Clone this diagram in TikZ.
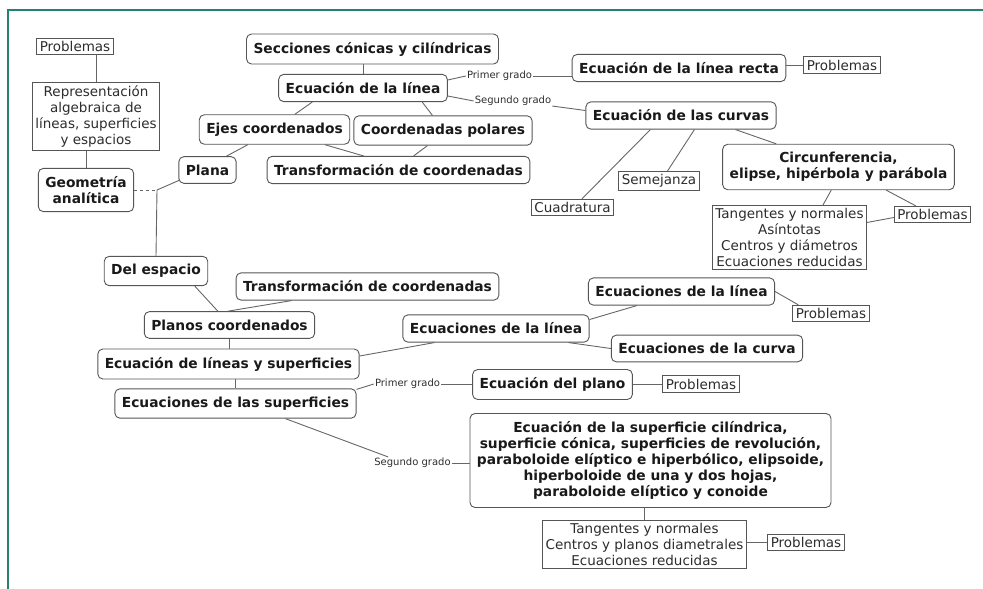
\documentclass[tikz,border=0pt]{standalone}
\usepackage{fontspec}
\setmainfont{DejaVu Sans}
\usetikzlibrary{backgrounds}

\definecolor{frameteal}{RGB}{38,128,116}
\definecolor{boxgray}{RGB}{85,85,85}
\definecolor{txtgray}{RGB}{45,45,45}

\begin{document}
\begin{tikzpicture}[x=1pt, y=-1pt,
    topic/.style={draw=boxgray, line width=0.9pt, rounded corners=5pt, fill=white,
        inner xsep=7pt, inner ysep=8pt, align=center,
        font=\fontsize{13.8}{16}\selectfont\bfseries, text=black!90},
    plain/.style={draw=boxgray, line width=0.8pt, fill=white,
        inner xsep=3pt, inner ysep=3pt, align=center,
        font=\fontsize{13.5}{16}\selectfont, text=txtgray},
    lbl/.style={inner sep=1pt, font=\fontsize{10}{12}\selectfont, text=txtgray},
    link/.style={draw=boxgray!90, line width=0.9pt}]

    \useasboundingbox (0,0) rectangle (983,589);
    \draw[frameteal, line width=2.4pt] (983,10) -- (8,10) -- (8,589);

    % left column
    \node[plain] (prbA) at (75,46.5) {Problemas};
    \node[plain] (rep) at (96,116.5) {Representación\\algebraica de\\líneas, superficies\\y espacios};
    \node[topic] (geo) at (86,190) {Geometría\\analítica};
    \node[topic] (plana) at (207.5,170) {Plana};
    \coordinate (jn) at (157,190);
    \node[topic] (del) at (156,271) {Del espacio};

    % plane geometry
    \node[topic] (secc) at (372.5,49) {Secciones cónicas y cilíndricas};
    \node[topic] (ecl) at (363,88) {Ecuación de la línea};
    \node[topic] (ejes) at (274.5,129.5) {Ejes coordenados};
    \node[topic] (pol) at (443,130.5) {Coordenadas polares};
    \node[topic] (trA) at (398.5,170) {Transformación de coordenadas};
    \node[lbl] (lbA) at (499.5,76) {Primer grado};
    \node[lbl] (lbB) at (513,101) {Segundo grado};
    \node[topic] (recta) at (679,68) {Ecuación de la línea recta};
    \node[plain] (prbB) at (842,65) {Problemas};
    \node[topic] (curvas) at (681,115.5) {Ecuación de las curvas};
    \node[topic] (circ) at (838.5,167) {Circunferencia,\\elipse, hipérbola y parábola};
    \node[plain] (sem) at (659,181) {Semejanza};
    \node[plain] (cuad) at (572.5,207.5) {Cuadratura};
    \node[plain] (tanA) at (789.5,237.5) {Tangentes y normales\\Asíntotas\\Centros y diámetros\\Ecuaciones reducidas};
    \node[plain] (prbC) at (932.5,214.5) {Problemas};

    % solid geometry
    \node[topic] (trB) at (367.5,286.5) {Transformación de coordenadas};
    \node[topic] (planos) at (229.5,325) {Planos coordenados};
    \node[topic] (els) at (228.5,364) {Ecuación de líneas y superficies};
    \node[topic] (ess) at (235.5,403.5) {Ecuaciones de las superficies};
    \node[topic] (edlm) at (496,328.5) {Ecuaciones de la línea};
    \node[topic] (edlu) at (681.5,291.5) {Ecuaciones de la línea};
    \node[plain] (prbD) at (831,313.5) {Problemas};
    \node[topic] (curva) at (707,348.5) {Ecuaciones de la curva};
    \node[lbl] (lbC) at (407.5,384) {Primer grado};
    \node[topic] (plano) at (552.5,384.5) {Ecuación del plano};
    \node[plain] (prbE) at (701,384) {Problemas};
    \node[lbl] (lbD) at (412.5,463) {Segundo grado};
    \node[topic] (big) at (650.5,460.5) {Ecuación de la superficie cilíndrica,\\superficie cónica, superficies de revolución,\\paraboloide elíptico e hiperbólico, elipsoide,\\hiperboloide de una y dos hojas,\\paraboloide elíptico y conoide};
    \node[plain] (tanB) at (644.5,544.5) {Tangentes y normales\\Centros y planos diametrales\\Ecuaciones reducidas};
    \node[plain] (prbF) at (806,542.5) {Problemas};

    \begin{scope}[on background layer]
    \draw[link] (rep.north) -- (rep.north |- prbA.south);
    \draw[link] (geo.north) -- (geo.north |- rep.south);
    \draw[link, dashed] (geo.east) -- (jn);
    \draw[link] (jn) -- ([xshift=2pt,yshift=4pt]plana.south west);
    \draw[link] (jn) -- (del.north);

    \draw[link] (ecl.north) -- (ecl.north |- secc.south);
    \draw[link] ([xshift=34pt]ecl.south west) -- ([xshift=96pt]ejes.north west);
    \draw[link] ([xshift=144pt]ecl.south west) -- ([xshift=79pt]pol.north west);
    \draw[link] ([xshift=49pt]ejes.south west) -- ([xshift=48pt]plana.north west);
    \draw[link] ([xshift=126pt]ejes.south west) -- ([xshift=97pt]trA.north west);
    \draw[link] ([xshift=74pt]pol.south west) -- ([xshift=147pt]trA.north west);
    \draw[link] ([yshift=8pt]ecl.east) -- (lbA.west);
    \draw[link] (lbA.east) -- (recta.west |- lbA.east);
    \draw[link] ([yshift=-8pt]ecl.east) -- (lbB.west);
    \draw[link] ([yshift=1pt]lbB.south east) -- ([yshift=5pt]curvas.west);
    \draw[link] (recta.east |- prbB.west) -- (prbB.west);
    \draw[link] ([xshift=65pt]curvas.south west) -- ([xshift=51pt]cuad.north west);
    \draw[link] ([xshift=109pt]curvas.south west) -- ([xshift=49pt]sem.north west);
    \draw[link] ([xshift=150pt]curvas.south west) -- ([xshift=54pt]circ.north west);
    \draw[link] ([xshift=109pt]circ.south west) -- ([xshift=111pt]tanA.north west);
    \draw[link] ([xshift=164pt]circ.south west) -- ([xshift=22pt]prbC.north west);
    \draw[link] ([yshift=15pt]tanA.east) -- ([yshift=-3pt]prbC.west);

    \draw[link] ([xshift=91pt]del.south west) -- ([xshift=74pt]planos.north west);
    \draw[link] ([xshift=56pt]trB.south west) -- ([xshift=84pt]planos.north west);
    \draw[link] (planos.south) -- (planos.south |- els.north);
    \draw[link] (ess.north) -- (ess.north |- els.south);
    \draw[link] ([yshift=8pt]els.east) -- ([xshift=32pt]edlm.south west);
    \draw[link] ([yshift=9pt]edlm.east) -- ([xshift=49pt]edlu.south west);
    \draw[link] (edlu.east) -- ([xshift=6pt]prbD.north west);
    \draw[link] ([xshift=-21pt]edlm.south east) -- (curva.west);
    \draw[link] ([yshift=-1pt]ess.north east) -- (lbC.west);
    \draw[link] (lbC.east) -- (plano.west |- lbC.east);
    \draw[link] (plano.east |- prbE.west) -- (prbE.west);
    \draw[link] ([xshift=171pt]ess.south west) -- ([xshift=15pt]lbD.north west);
    \draw[link] (lbD.east) -- (big.west |- lbD.east);
    \draw[link] (tanB.north) -- (tanB.north |- big.south);
    \draw[link] (tanB.east |- prbF.west) -- (prbF.west);
    \end{scope}
\end{tikzpicture}
\end{document}
